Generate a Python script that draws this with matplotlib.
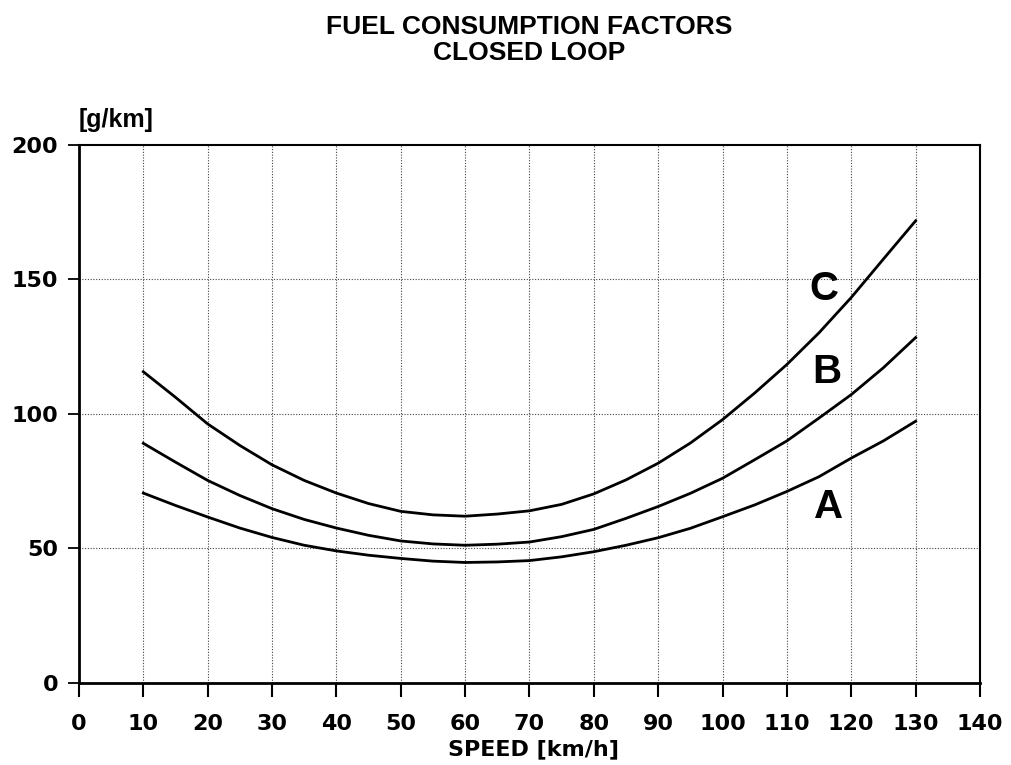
import matplotlib
matplotlib.use("Agg")
import matplotlib.pyplot as plt

# speeds and fuel consumption (every 5 km/h)
speed = [10, 15, 20, 25, 30, 35, 40, 45, 50, 55, 60, 65, 70,
         75, 80, 85, 90, 95, 100, 105, 110, 115, 120, 125, 130]
curve_a = [70.6, 66.0, 61.7, 57.6, 54.1, 51.2, 49.1, 47.5, 46.3, 45.3, 44.8, 45.0, 45.5,
           46.9, 48.8, 51.2, 54.0, 57.5, 61.8, 66.2, 71.2, 76.7, 83.6, 90.0, 97.3]
curve_b = [89.1, 82.1, 75.3, 69.7, 64.8, 60.8, 57.6, 54.9, 52.8, 51.7, 51.2, 51.6, 52.4,
           54.4, 57.1, 61.2, 65.6, 70.5, 76.1, 83.0, 90.0, 98.5, 107.2, 117.2, 128.4]
curve_c = [115.7, 106.2, 96.3, 88.3, 81.1, 75.3, 70.6, 66.7, 63.8, 62.5, 62.0, 62.8, 64.0,
           66.4, 70.3, 75.5, 81.7, 89.2, 97.9, 107.8, 118.4, 130.2, 143.3, 157.6, 171.8]

x_ticks = list(range(0, 141, 10))
y_ticks = [0, 50, 100, 150, 200]

plt.rcParams['font.family'] = ['Liberation Sans', 'DejaVu Sans']

fig = plt.figure(figsize=(10.11, 7.65), dpi=100)
ax = fig.add_axes([0.0781, 0.1072, 0.8912, 0.7033])

# dotted grid, no line on the frame itself
for gx in x_ticks[1:-1]:
    ax.axvline(gx, color='#444444', lw=0.8, ls=(0, (1, 1.5)), zorder=1)
for gy in y_ticks[1:-1]:
    ax.axhline(gy, color='#444444', lw=0.8, ls=(0, (1, 1.5)), zorder=1)

for ys in (curve_a, curve_b, curve_c):
    ax.plot(speed, ys, color='black', lw=2.0, solid_joinstyle='round', zorder=3)

ax.text(115.8, 146.5, 'C', fontsize=29, fontweight='bold', ha='center', va='center')
ax.text(116.2, 115.6, 'B', fontsize=29, fontweight='bold', ha='center', va='center')
ax.text(116.5, 65.6, 'A', fontsize=29, fontweight='bold', ha='center', va='center')

ax.set_xlim(0, 140)
ax.set_ylim(0, 200)
ax.set_xticks(x_ticks)
ax.set_yticks(y_ticks)
ax.tick_params(axis='x', direction='out', length=10, width=1.5, pad=12)
ax.tick_params(axis='y', direction='out', length=8, width=1.3, pad=7)
for lab in ax.get_xticklabels() + ax.get_yticklabels():
    lab.set_fontfamily('DejaVu Sans')
    lab.set_fontweight('bold')
    lab.set_fontsize(16)

ax.spines['left'].set_linewidth(2.0)
ax.spines['bottom'].set_linewidth(2.0)
ax.spines['top'].set_linewidth(1.5)
ax.spines['right'].set_linewidth(1.5)

ax.set_xlabel('SPEED [km/h]', fontsize=16, fontweight='bold',
              fontfamily='DejaVu Sans', labelpad=4)
ax.xaxis.label.set_x(0.505)
ax.text(0, 1.025, '[g/km]', transform=ax.transAxes, fontsize=18,
        fontweight='bold', ha='left', va='bottom')

fig.text(0.523, 0.965, 'FUEL CONSUMPTION FACTORS', fontsize=19,
         fontweight='bold', ha='center', va='center')
fig.text(0.523, 0.931, 'CLOSED LOOP', fontsize=19,
         fontweight='bold', ha='center', va='center')

fig.savefig('out.png', dpi=100)
